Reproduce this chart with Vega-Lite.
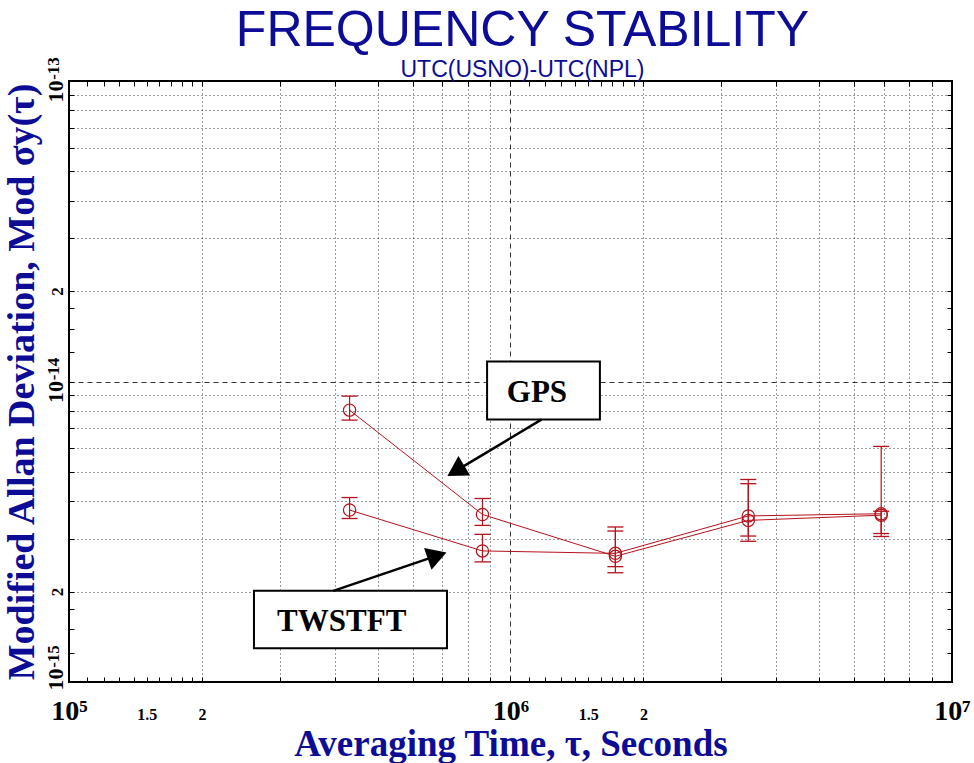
{
  "$schema": "https://vega.github.io/schema/vega-lite/v6.json",
  "width": 883,
  "height": 601,
  "autosize": "none",
  "padding": {"left": 69, "top": 81, "right": 22, "bottom": 81},
  "background": "white",
  "config": {
    "view": {"stroke": "black", "strokeWidth": 2},
    "axis": {"gridColor": "black", "gridOpacity": 1, "gridWidth": 0.8, "tickColor": "black", "tickOpacity": 1}
  },
  "title": {
    "text": "FREQUENCY STABILITY",
    "subtitle": "UTC(USNO)-UTC(NPL)",
    "font": "Liberation Sans Narrow, Arial Narrow, Liberation Sans",
    "fontSize": 50,
    "fontWeight": "normal",
    "color": "#0c0c96",
    "subtitleFont": "Liberation Sans Narrow, Arial Narrow, Liberation Sans",
    "subtitleFontSize": 23,
    "subtitleColor": "#0c0c96",
    "subtitlePadding": 3,
    "anchor": "middle",
    "frame": "group",
    "offset": -25,
    "dx": 12
  },
  "datasets": {
    "pts": [
      {"series": "GPS", "tau": 432000, "adev": 8.03e-15, "lo": 7.44e-15, "hi": 8.94e-15},
      {"series": "GPS", "tau": 864000, "adev": 3.61e-15, "lo": 3.32e-15, "hi": 4.08e-15},
      {"series": "GPS", "tau": 1728000, "adev": 2.62e-15, "lo": 2.31e-15, "hi": 3.28e-15},
      {"series": "GPS", "tau": 3456000, "adev": 3.45e-15, "lo": 2.94e-15, "hi": 4.57e-15},
      {"series": "GPS", "tau": 6912000, "adev": 3.59e-15, "lo": 3.05e-15, "hi": 6.08e-15},
      {"series": "TWSTFT", "tau": 432000, "adev": 3.735e-15, "lo": 3.50e-15, "hi": 4.11e-15},
      {"series": "TWSTFT", "tau": 864000, "adev": 2.73e-15, "lo": 2.51e-15, "hi": 3.10e-15},
      {"series": "TWSTFT", "tau": 1728000, "adev": 2.68e-15, "lo": 2.42e-15, "hi": 3.18e-15},
      {"series": "TWSTFT", "tau": 3456000, "adev": 3.57e-15, "lo": 3.06e-15, "hi": 4.72e-15},
      {"series": "TWSTFT", "tau": 6912000, "adev": 3.63e-15, "lo": 3.12e-15, "hi": 3.70e-15}
    ],
    "notes": [
      {"name": "GPS", "x1": 885000, "x2": 1594000, "y1": 7.48e-15, "y2": 1.165e-14, "tx": 1148000, "ty": 9.16e-15, "xs": 1177000, "ys": 7.48e-15, "hx": 752000, "hy": 5.04e-15},
      {"name": "TWSTFT", "x1": 262400, "x2": 718000, "y1": 1.294e-15, "y2": 2.011e-15, "tx": 414700, "ty": 1.579e-15, "xs": 396800, "ys": 2.011e-15, "hx": 682000, "hy": 2.633e-15}
    ]
  },
  "resolve": {"axis": {"x": "independent", "y": "independent"}},
  "layer": [
    {
      "data": {"name": "pts"},
      "mark": {"type": "line", "color": "#b5121b", "strokeWidth": 1},
      "encoding": {
        "x": {"field": "tau", "type": "quantitative",
          "scale": {"type": "log", "domain": [100000, 10000000], "nice": false},
          "axis": {"orient": "bottom", "values": [200000, 300000, 400000, 500000, 600000, 700000, 800000, 900000, 2000000, 3000000, 4000000, 5000000, 6000000, 7000000, 8000000, 9000000],
            "grid": true, "gridDash": [1, 3], "labels": false, "ticks": false, "domain": false, "title": null}},
        "y": {"field": "adev", "type": "quantitative",
          "scale": {"type": "log", "domain": [1e-15, 1e-13], "nice": false},
          "axis": {"orient": "left", "values": [2e-15, 3e-15, 4e-15, 5e-15, 6e-15, 7e-15, 8e-15, 9e-15, 2e-14, 3e-14, 4e-14, 5e-14, 6e-14, 7e-14, 8e-14, 9e-14],
            "grid": true, "gridDash": [1, 3], "ticks": false, "tickSize": 0, "domain": false, "title": null,
            "labels": true,
            "labelExpr": "(datum.value > 1.9e-15 && datum.value < 2.1e-15) || (datum.value > 1.9e-14 && datum.value < 2.1e-14) ? '2' : ''",
            "labelFont": "Liberation Serif", "labelFontWeight": "bold", "labelColor": "black", "labelFontSize": 17,
            "labelAngle": 270, "labelAlign": "center", "labelBaseline": "alphabetic", "labelPadding": 7, "labelFlush": false, "labelOverlap": false}},
        "detail": {"field": "series", "type": "nominal"}
      }
    },
    {
      "data": {"name": "pts"},
      "mark": {"type": "rule", "color": "#b5121b", "strokeWidth": 1.2},
      "encoding": {
        "x": {"field": "tau", "type": "quantitative",
          "axis": {"orient": "bottom", "values": [1000000], "grid": true, "gridDash": [5, 4], "labels": false, "ticks": false, "domain": false, "title": null}},
        "y": {"field": "lo", "type": "quantitative",
          "axis": {"orient": "left", "values": [1e-14], "grid": true, "gridDash": [5, 4], "labels": false, "ticks": false, "domain": false, "title": null}},
        "y2": {"field": "hi"}
      }
    },
    {
      "data": {"name": "pts"},
      "mark": {"type": "tick", "orient": "horizontal", "size": 16, "thickness": 1.3, "color": "#b5121b", "opacity": 1},
      "encoding": {
        "x": {"field": "tau", "type": "quantitative",
          "axis": {"orient": "bottom", "values": [110000, 120000, 130000, 140000, 150000, 160000, 170000, 180000, 190000, 200000, 300000, 400000, 500000, 600000, 700000, 800000, 900000, 1000000, 1100000, 1200000, 1300000, 1400000, 1500000, 1600000, 1700000, 1800000, 1900000, 2000000, 3000000, 4000000, 5000000, 6000000, 7000000, 8000000, 9000000],
            "grid": false, "labels": false, "ticks": true, "tickSize": -5, "tickWidth": 1, "domain": false, "title": null}},
        "y": {"field": "lo", "type": "quantitative",
          "axis": {"orient": "left", "values": [1.25e-15, 1.5e-15, 1.75e-15, 2e-15, 3e-15, 4e-15, 5e-15, 6e-15, 7e-15, 8e-15, 9e-15, 1e-14, 1.25e-14, 1.5e-14, 1.75e-14, 2e-14, 3e-14, 4e-14, 5e-14, 6e-14, 7e-14, 8e-14, 9e-14],
            "grid": false, "labels": false, "ticks": true, "tickSize": -5, "tickWidth": 1, "domain": false, "title": null}}
      }
    },
    {
      "data": {"name": "pts"},
      "mark": {"type": "tick", "orient": "horizontal", "size": 16, "thickness": 1.3, "color": "#b5121b", "opacity": 1},
      "encoding": {
        "x": {"field": "tau", "type": "quantitative",
          "axis": {"orient": "top", "values": [110000, 120000, 130000, 140000, 150000, 160000, 170000, 180000, 190000, 200000, 300000, 400000, 500000, 600000, 700000, 800000, 900000, 1000000, 1100000, 1200000, 1300000, 1400000, 1500000, 1600000, 1700000, 1800000, 1900000, 2000000, 3000000, 4000000, 5000000, 6000000, 7000000, 8000000, 9000000],
            "grid": false, "labels": false, "ticks": true, "tickSize": -5, "tickWidth": 1, "domain": false, "title": null}},
        "y": {"field": "hi", "type": "quantitative",
          "axis": {"orient": "right", "values": [1.25e-15, 1.5e-15, 1.75e-15, 2e-15, 3e-15, 4e-15, 5e-15, 6e-15, 7e-15, 8e-15, 9e-15, 1e-14, 1.25e-14, 1.5e-14, 1.75e-14, 2e-14, 3e-14, 4e-14, 5e-14, 6e-14, 7e-14, 8e-14, 9e-14],
            "grid": false, "labels": false, "ticks": true, "tickSize": -5, "tickWidth": 1, "domain": false, "title": null}}
      }
    },
    {
      "data": {"name": "pts"},
      "mark": {"type": "point", "shape": "circle", "filled": false, "size": 150, "stroke": "#b5121b", "strokeWidth": 1.2, "opacity": 1},
      "encoding": {
        "x": {"field": "tau", "type": "quantitative",
          "axis": {"orient": "bottom", "values": [100000, 150000, 200000, 1000000, 1500000, 2000000, 10000000],
            "grid": false, "ticks": false, "tickSize": 0, "domain": false,
            "labelExpr": "datum.value == 100000 ? '10⁵' : datum.value == 1000000 ? '10⁶' : datum.value == 10000000 ? '10⁷' : (datum.value == 150000 || datum.value == 1500000) ? '1.5' : '2'",
            "labelFont": "Liberation Serif", "labelFontWeight": "bold", "labelColor": "black",
            "labelFontSize": {"condition": {"test": "datum.value == 100000 || datum.value == 1000000 || datum.value == 10000000", "value": 28}, "value": 16},
            "labelBaseline": "alphabetic", "labelPadding": 37, "labelFlush": false, "labelOverlap": false,
            "title": "Averaging Time, τ, Seconds", "titleFont": "Liberation Serif", "titleFontSize": 37, "titleFontWeight": "bold", "titleColor": "#0c0c96",
            "titleBaseline": "alphabetic", "titleY": 73}},
        "y": {"field": "adev", "type": "quantitative",
          "axis": {"orient": "left", "values": [1e-15, 1e-14, 1e-13],
            "grid": false, "ticks": false, "tickSize": 0, "domain": false,
            "labelExpr": "'10'",
            "labelFont": "Liberation Serif", "labelFontWeight": "bold", "labelColor": "black", "labelFontSize": 22,
            "labelOffset": {"condition": {"test": "datum.value < 1.5e-15", "value": -3}, "value": 10},
            "labelAngle": 270, "labelAlign": "center", "labelBaseline": "alphabetic", "labelPadding": 7, "labelFlush": false, "labelOverlap": false,
            "title": "Modified Allan Deviation, Mod σy(τ)", "titleFont": "Liberation Serif", "titleFontSize": 38, "titleFontWeight": "bold", "titleColor": "#0c0c96",
            "titleAngle": 270, "titleBaseline": "alphabetic", "titleX": -36}}
      }
    },
    {
      "data": {"name": "notes"},
      "mark": {"type": "rect", "fill": "white", "stroke": "black", "strokeWidth": 2},
      "encoding": {
        "x": {"field": "x1", "type": "quantitative", "axis": null},
        "x2": {"field": "x2"},
        "y": {"field": "y1", "type": "quantitative",
          "axis": {"orient": "left", "values": [1e-15, 1e-14, 1e-13],
            "grid": false, "ticks": false, "tickSize": 0, "domain": false,
            "labelExpr": "datum.value < 1.5e-15 ? '-15' : datum.value < 1.5e-14 ? '-14' : '-13'",
            "labelFont": "Liberation Serif", "labelFontWeight": "bold", "labelColor": "black", "labelFontSize": 17,
            "labelOffset": {"condition": {"test": "datum.value < 1.5e-15", "value": -26}, "value": -13},
            "labelAngle": 270, "labelAlign": "center", "labelBaseline": "alphabetic", "labelPadding": 11, "labelFlush": false, "labelOverlap": false,
            "title": null}},
        "y2": {"field": "y2"}
      }
    },
    {
      "data": {"name": "notes"},
      "mark": {"type": "text", "font": "Liberation Serif", "fontWeight": "bold", "fontSize": 31, "color": "black", "align": "center", "baseline": "middle"},
      "encoding": {
        "x": {"field": "tx", "type": "quantitative", "axis": null},
        "y": {"field": "ty", "type": "quantitative", "axis": null},
        "text": {"field": "name"}
      }
    },
    {
      "data": {"name": "notes"},
      "mark": {"type": "rule", "color": "black", "strokeWidth": 2.5},
      "encoding": {
        "x": {"field": "xs", "type": "quantitative", "axis": null},
        "x2": {"field": "hx"},
        "y": {"field": "ys", "type": "quantitative", "axis": null},
        "y2": {"field": "hy"}
      }
    },
    {
      "data": {"name": "notes"},
      "transform": [{"filter": "datum.name == 'GPS'"}],
      "mark": {"type": "point", "shape": "triangle-up", "filled": true, "color": "black", "size": 520, "angle": 239, "opacity": 1},
      "encoding": {
        "x": {"field": "hx", "type": "quantitative", "axis": null},
        "y": {"field": "hy", "type": "quantitative", "axis": null}
      }
    },
    {
      "data": {"name": "notes"},
      "transform": [{"filter": "datum.name == 'TWSTFT'"}],
      "mark": {"type": "point", "shape": "triangle-up", "filled": true, "color": "black", "size": 520, "angle": 71, "opacity": 1},
      "encoding": {
        "x": {"field": "hx", "type": "quantitative", "axis": null},
        "y": {"field": "hy", "type": "quantitative", "axis": null}
      }
    }
  ]
}
